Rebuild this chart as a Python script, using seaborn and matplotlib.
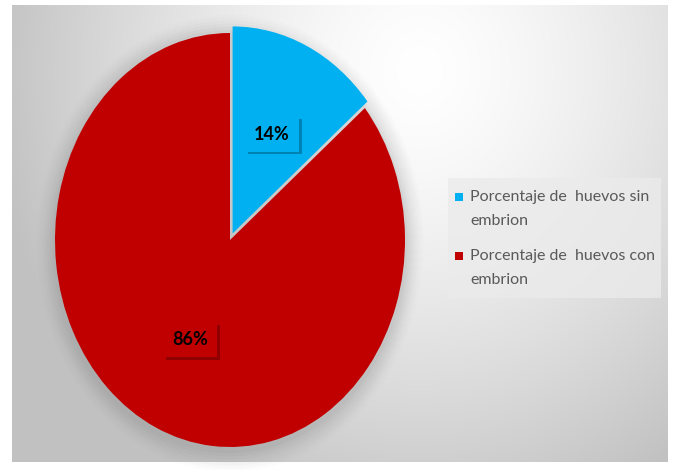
import numpy as np
import matplotlib
matplotlib.use("Agg")
import matplotlib.pyplot as plt
import matplotlib.patheffects as pe
from matplotlib.patches import Rectangle, Ellipse
import seaborn as sns

# Data
categories = ["Porcentaje de  huevos sin\nembrion", "Porcentaje de  huevos con\nembrion"]
values = [14, 86]
colors = ["#00B0F0", "#C00000"]

sns.set_theme(style="white")
plt.rcParams["font.family"] = ["Lato", "DejaVu Sans"]

W, H = 681, 470
fig = plt.figure(figsize=(W / 100, H / 100), dpi=100, facecolor="white")


def fx(px):
    return px / W


def fy(py):
    return 1 - py / H


# Chart-area background: soft radial gradient, light near the top
bx0, by0, bx1, by1 = 12, 5, 668, 462
bg = fig.add_axes([fx(bx0), fy(by1), (bx1 - bx0) / W, (by1 - by0) / H])
gx = np.linspace(bx0, bx1, 400)
gy = np.linspace(by0, by1, 300)
X, Y = np.meshgrid(gx, gy)
d = np.sqrt(((X - 420) / 430) ** 2 + ((Y - 70) / 470) ** 2)
shade = np.clip(1.0 - 0.24 * d ** 1.4, 0.76, 1.0)
img = np.dstack([shade, shade, shade])
bg.imshow(img, extent=[0, 1, 0, 1], aspect="auto", origin="upper")
bg.set_axis_off()

# Pie (drawn as a vertically stretched ellipse)
cx, cy, rx, ry = 230, 240, 175, 207
ax = fig.add_axes([fx(cx - rx), fy(cy + ry), 2 * rx / W, 2 * ry / H])
ax.patch.set_alpha(0)

# soft shadow under the pie
for i, a in enumerate(np.linspace(0.06, 0.015, 7)):
    s = 2.0 + 0.03 * (i + 1)
    ax.add_patch(Ellipse((0.0, -0.015), s, s, facecolor="#707070",
                         edgecolor="none", alpha=a, zorder=0, clip_on=False))

wedges, texts, autotexts = ax.pie(
    values, colors=colors, startangle=90, counterclock=False,
    explode=[0.035, 0.0], autopct="%d%%", pctdistance=0.53,
    wedgeprops=dict(edgecolor="none"),
    textprops=dict(fontsize=13, fontweight="bold", color="black"),
)
for w in wedges:
    w.set_clip_on(False)
ax.set_aspect("auto")
ax.set_xlim(-1, 1)
ax.set_ylim(-1, 1)
ax.set_axis_off()

for t, c in zip(autotexts, colors):
    t.set_bbox(dict(boxstyle="square,pad=0.5", facecolor=c, edgecolor="none"))
    t.get_bbox_patch().set_path_effects([
        pe.SimplePatchShadow(offset=(2, -2), shadow_rgbFace="black", alpha=0.25),
        pe.Normal(),
    ])

# Legend panel with square markers
lx0, ly0, lx1, ly1 = 448, 178, 661, 298
fig.patches.append(Rectangle((fx(lx0), fy(ly1)), (lx1 - lx0) / W, (ly1 - ly0) / H,
                             transform=fig.transFigure, facecolor="#ebebeb",
                             edgecolor="none", alpha=0.8, zorder=2))
entry_mid = [197, 256]
for label, c, y in zip(categories, colors, entry_mid):
    fig.patches.append(Rectangle((fx(455), fy(y + 4)), 8 / W, 8 / H,
                                 transform=fig.transFigure, facecolor=c,
                                 edgecolor="none", zorder=3))
    fig.text(fx(470), fy(y - 7), label, ha="left", va="top", fontsize=11.5,
             color="#595959", linespacing=1.95, zorder=4)

fig.savefig("out.png", dpi=100, facecolor="white")
